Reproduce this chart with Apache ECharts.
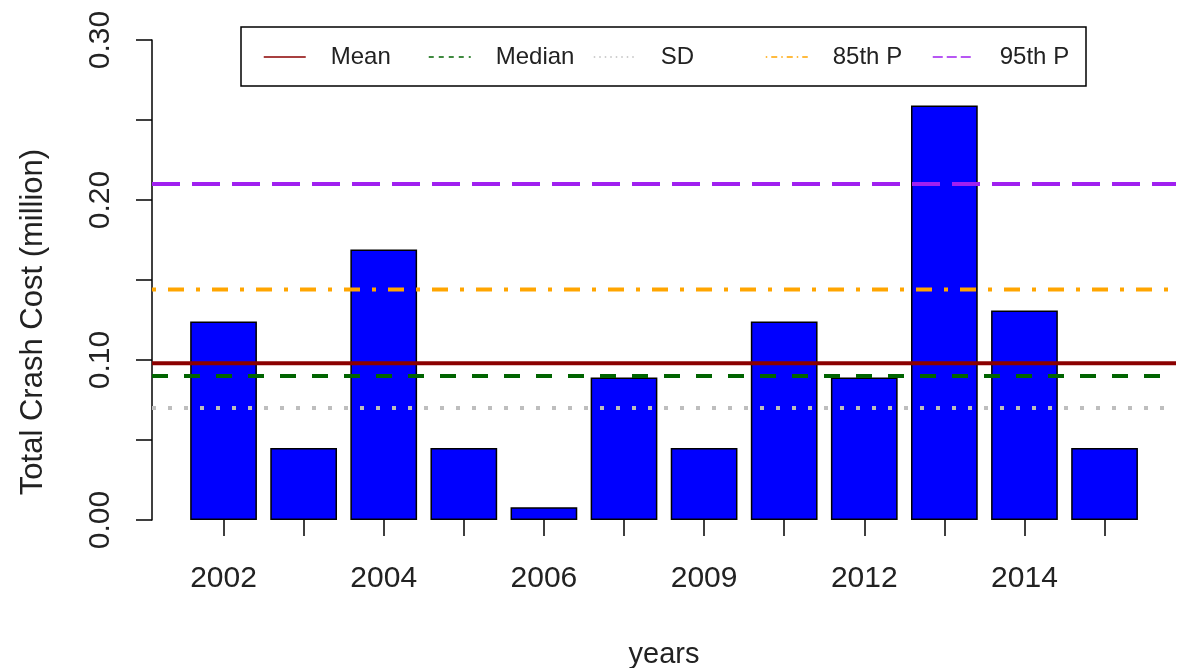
<!DOCTYPE html>
<html>
<head>
<meta charset="utf-8">
<script src="https://cdn.jsdelivr.net/npm/echarts@6/dist/echarts.min.js"></script>
<style>
html,body{margin:0;padding:0;background:#fff;}
#chart{width:1188px;height:668px;}
</style>
</head>
<body>
<div id="chart"></div>
<script>
// ---- data ----
const years = ['2002','2003','2004','2005','2006','2007','2009','2010','2012','2013','2014','2015'];
const crashCost = [0.124, 0.045, 0.169, 0.045, 0.008, 0.089, 0.045, 0.124, 0.089, 0.259, 0.131, 0.045];
const statNames = ['Mean', 'Median', 'SD', '85th P', '95th P'];
const statValues = [0.098, 0.090, 0.070, 0.144, 0.210];

// ---- styles ----
const FONT = "'Liberation Sans', Arial, sans-serif";
const statColors = ['#8B0000', '#006400', '#BEBEBE', '#FFA500', '#A020F0'];
const statDash = ['solid', [16, 16], [4, 12], [4, 12, 16, 12], [28, 12]];
const legendDash = ['solid', [5, 5], [1.5, 4], [1.5, 4, 6, 4], [10, 4]];
const legendLeft = [263, 428, 593, 765, 932];

const chart = echarts.init(document.getElementById('chart'));

const lineSeries = statNames.map((name, i) => ({
  name: name,
  type: 'line',
  xAxisIndex: 1,
  yAxisIndex: 1,
  data: [statValues[i], statValues[i]],
  symbol: 'none',
  silent: true,
  z: 5,
  lineStyle: { color: statColors[i], width: 4, type: statDash[i], cap: 'butt' },
  itemStyle: { color: statColors[i] }
}));

const legends = statNames.map((n, i) => ({
  left: legendLeft[i], top: 45,
  orient: 'horizontal',
  padding: 0,
  z: 30,
  itemWidth: 42, itemHeight: 24,
  selectedMode: false,
  textStyle: { fontSize: 24, color: '#222', fontFamily: FONT, padding: [0, 0, 0, 20] },
  itemStyle: { opacity: 0 },
  lineStyle: { width: 1.5, type: legendDash[i], color: statColors[i], opacity: 1 },
  data: [n]
}));

const option = {
  animation: false,
  backgroundColor: '#fff',
  textStyle: { fontFamily: FONT },
  grid: [
    { left: 183.5, right: 43.4, top: 40, bottom: 148, outerBoundsMode: 'none' },
    { left: 152, right: 12, top: 40, bottom: 148, outerBoundsMode: 'none' }
  ],
  xAxis: [
    {
      type: 'category', gridIndex: 0, data: years,
      name: 'years', nameLocation: 'middle', nameGap: 120,
      nameTextStyle: { fontSize: 29, color: '#222', fontFamily: FONT },
      axisLine: { show: false },
      axisTick: { show: true, alignWithLabel: true, interval: 0, length: 16, lineStyle: { color: '#000', width: 1.5 } },
      axisLabel: { interval: 1, fontSize: 30, color: '#222', margin: 44, fontFamily: FONT },
      splitLine: { show: false }
    },
    {
      type: 'category', gridIndex: 1, data: ['a', 'b'], boundaryGap: false, show: false
    }
  ],
  yAxis: [
    { type: 'value', gridIndex: 0, min: 0, max: 0.30, show: false },
    {
      type: 'value', gridIndex: 1, min: 0, max: 0.30, interval: 0.05,
      axisLine: { show: true, lineStyle: { color: '#000', width: 1.5 } },
      axisTick: { show: true, length: 16, lineStyle: { color: '#000', width: 1.5 } },
      axisLabel: {
        rotate: 90, fontSize: 30, color: '#222', margin: 36, fontFamily: FONT,
        formatter: function (v) {
          const k = Math.round(v * 100);
          return (k % 10 === 0) ? v.toFixed(2) : '';
        }
      },
      splitLine: { show: false }
    }
  ],
  legend: legends,
  graphic: [
    {
      type: 'rect',
      z: 20,
      shape: { x: 241, y: 27, width: 845, height: 59 },
      style: { fill: '#fff', stroke: '#000', lineWidth: 1.5 }
    },
    {
      type: 'text',
      x: 33, y: 322,
      rotation: Math.PI / 2,
      style: { text: 'Total Crash Cost (million)', font: "31px 'Liberation Sans', Arial, sans-serif", fill: '#222', align: 'center', verticalAlign: 'middle' }
    }
  ],
  series: [
    {
      name: 'Total Crash Cost',
      type: 'bar',
      xAxisIndex: 0, yAxisIndex: 0,
      data: crashCost,
      barWidth: '83.33%',
      z: 2,
      itemStyle: { color: '#0000FF', borderColor: '#000', borderWidth: 1.5 }
    }
  ].concat(lineSeries)
};

chart.setOption(option);
</script>
</body>
</html>
